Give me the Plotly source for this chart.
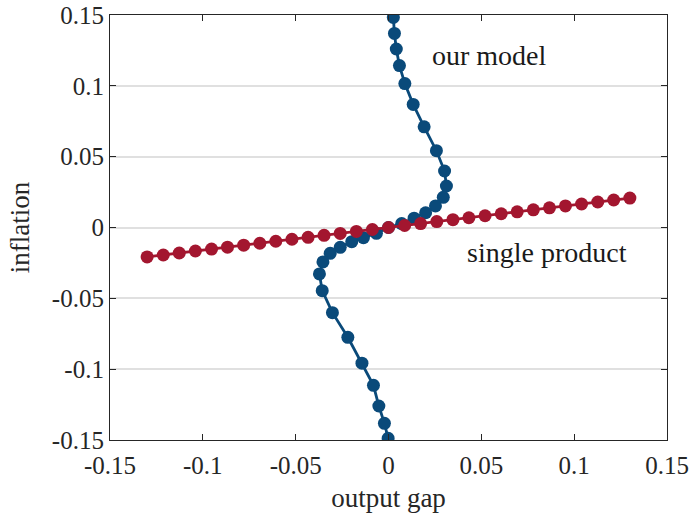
import plotly.graph_objects as go

# "our model" curve (output gap, inflation)
model_x = [0.0026, 0.0032, 0.0042, 0.0059, 0.0088, 0.0133, 0.0192, 0.0258, 0.0302, 0.0312,
           0.0295, 0.0253, 0.0200, 0.0138, 0.0071, 0.0000, -0.0065, -0.0135, -0.0198, -0.0260,
           -0.0314, -0.0353, -0.0372, -0.0357, -0.0302, -0.0219, -0.0143, -0.0081, -0.0052, -0.0022,
           -0.0002]
model_y = [0.1483, 0.1370, 0.1260, 0.1143, 0.1016, 0.0869, 0.0711, 0.0542, 0.0399, 0.0293,
           0.0213, 0.0152, 0.0104, 0.0066, 0.0028, 0.0000, -0.0041, -0.0072, -0.0100, -0.0140,
           -0.0182, -0.0243, -0.0328, -0.0446, -0.0601, -0.0775, -0.0958, -0.1114, -0.1260, -0.1382,
           -0.1488]

# "single product" line
single_x = [-0.1300, -0.1213, -0.1127, -0.1040, -0.0953, -0.0867, -0.0780, -0.0693, -0.0607, -0.0520,
            -0.0433, -0.0347, -0.0260, -0.0173, -0.0087, 0.0000, 0.0087, 0.0173, 0.0260, 0.0347,
            0.0433, 0.0520, 0.0607, 0.0693, 0.0780, 0.0867, 0.0953, 0.1040, 0.1127, 0.1213, 0.1300]
single_y = [-0.0208, -0.0194, -0.0180, -0.0166, -0.0152, -0.0139, -0.0125, -0.0111, -0.0097, -0.0083,
            -0.0069, -0.0055, -0.0042, -0.0028, -0.0014, 0.0000, 0.0014, 0.0028, 0.0042, 0.0055,
            0.0069, 0.0083, 0.0097, 0.0111, 0.0125, 0.0139, 0.0152, 0.0166, 0.0180, 0.0194, 0.0208]

ticks = [-0.15, -0.1, -0.05, 0, 0.05, 0.1, 0.15]
tick_text = ["-0.15", "-0.1", "-0.05", "0", "0.05", "0.1", "0.15"]

BLUE = "#0a4a7a"
RED = "#a3162f"
FONT = "Liberation Serif"
TXT = "#262626"

fig = go.Figure()
fig.add_trace(go.Scatter(x=model_x, y=model_y, mode="lines+markers",
                         line=dict(color=BLUE, width=2.8),
                         marker=dict(color=BLUE, size=13), showlegend=False))
fig.add_trace(go.Scatter(x=single_x, y=single_y, mode="lines+markers",
                         line=dict(color=RED, width=2.8),
                         marker=dict(color=RED, size=13), showlegend=False))

fig.add_annotation(x=0.0224, y=0.1217, text="our model", showarrow=False,
                   xanchor="left", yanchor="middle", font=dict(family=FONT, size=28, color="#1a1a1a"))
fig.add_annotation(x=0.041, y=-0.0173, text="single product", showarrow=False,
                   xanchor="left", yanchor="middle", font=dict(family=FONT, size=28, color="#1a1a1a"))

common = dict(range=[-0.15, 0.15], tickvals=ticks, ticktext=tick_text,
              ticks="inside", ticklen=6, tickwidth=1, tickcolor=TXT,
              showline=True, linecolor=TXT, linewidth=1.2, mirror="ticks",
              zeroline=False, automargin=False,
              tickfont=dict(family=FONT, size=25, color=TXT))

fig.update_xaxes(**common, showgrid=False, ticklabelstandoff=3,
                 title=dict(text="output gap", font=dict(family=FONT, size=27, color=TXT), standoff=10))
fig.update_yaxes(**common, showgrid=True, gridcolor="#e0e0e0", gridwidth=1.5,
                 title=dict(text="inflation", font=dict(family=FONT, size=27, color=TXT), standoff=14))

fig.update_layout(width=691, height=516, plot_bgcolor="white", paper_bgcolor="white",
                  margin=dict(l=110, r=24, t=15, b=76))

fig.write_html("out.html")
